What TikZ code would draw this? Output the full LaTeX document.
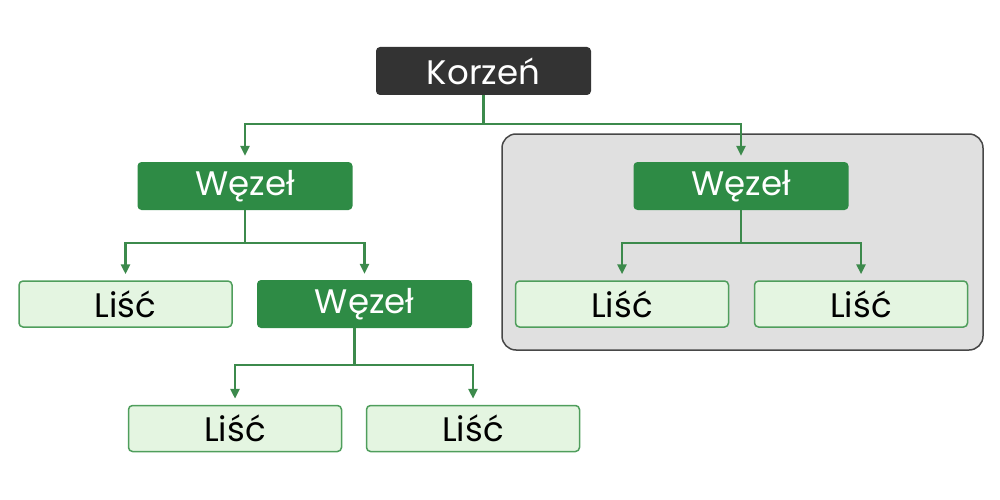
\documentclass[tikz,border=0pt]{standalone}
\usepackage{fontspec}
\setmainfont{Poppins}
\usepackage{tikz}
\usetikzlibrary{positioning,arrows.meta}
\definecolor{rootgray}{HTML}{333333}
\definecolor{nodegreen}{HTML}{2E8B45}
\definecolor{leafgreen}{HTML}{E4F5E1}
\definecolor{leafline}{HTML}{4F9E5C}
\definecolor{linkgreen}{HTML}{3C8A4C}
\definecolor{panelgray}{HTML}{E0E0E0}
\begin{document}
\begin{tikzpicture}[x=1pt, y=-1pt,
  box/.style = {minimum width = 215pt, minimum height = 48pt, rounded corners = 4pt,
                font = \fontsize{34}{38}\selectfont, inner sep = 0pt},
  rootbox/.style = {box, fill = rootgray, text = white},
  inner/.style = {box, fill = nodegreen, text = white},
  leaf/.style = {box, fill = leafgreen, draw = leafline, line width = 1.5pt, minimum width = 213pt, minimum height = 46pt},
  link/.style = {draw = linkgreen, line width = 2.5pt, shorten > = 6pt,
                 -{Triangle[width = 9pt, length = 10pt]}}
]
\useasboundingbox (0,0) rectangle (1000,500);
% gray panel
\draw[fill = panelgray, draw = rootgray!90, line width = 1.5pt, rounded corners = 14pt]
  (502,134) rectangle (983,350);

\node[rootbox] (root) at (483.5,71) {Korzeń};
\node[inner] (w1) at (245,186) {Węzeł};
\node[inner] (w2) at (741,186) {Węzeł};
\node[leaf] (l1) at (125.5,304) {Liść};
\node[inner] (w3) at (364.5,304) {Węzeł};
\node[leaf] (l2) at (622,304) {Liść};
\node[leaf] (l3) at (861,304) {Liść};
\node[leaf] (l4) at (235,428.5) {Liść};
\node[leaf] (l5) at (473,428.5) {Liść};

\draw[link] (root.south) -- ++(0,29) coordinate (f0) -| (w1.north);
\draw[link] (f0) -| (w2.north);
\draw[link] (w1.south) -- ++(0,33) coordinate (f1) -| (l1.north);
\draw[link] (f1) -| (w3.north);
\draw[link] (w2.south) -- ++(0,33) coordinate (f2) -| (l2.north);
\draw[link] (f2) -| (l3.north);
\draw[link] ([xshift=-10pt]w3.south) -- ++(0,37) coordinate (f3) -| (l4.north);
\draw[link] (f3) -| (l5.north);
\end{tikzpicture}
\end{document}
